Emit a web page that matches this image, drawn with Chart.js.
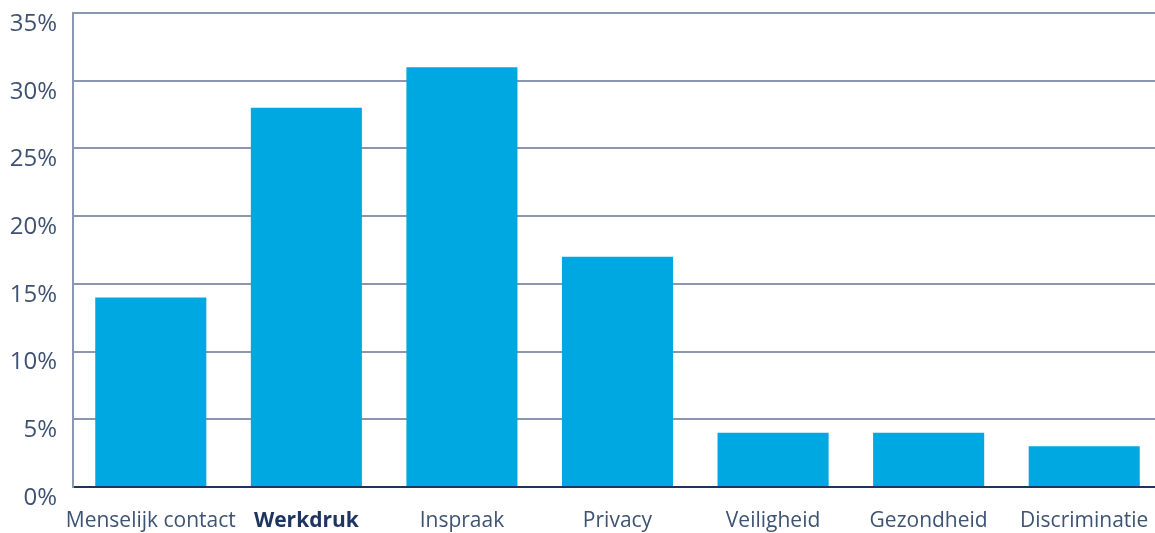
<!DOCTYPE html>
<html>
<head>
<meta charset="utf-8">
<script src="https://cdn.jsdelivr.net/npm/chart.js@4"></script>
<style>
  html, body { margin: 0; padding: 0; background: #fff; overflow: hidden; }
  #wrap { width: 1162px; height: 533px; position: relative; }
</style>
</head>
<body>
<div id="wrap"><canvas id="chart"></canvas></div>
<script>
// Categories and shares (percent)
const categories = ['Menselijk contact', 'Werkdruk', 'Inspraak', 'Privacy', 'Veiligheid', 'Gezondheid', 'Discriminatie'];
const shares = [14, 28, 31, 17, 4, 4, 3];
const highlighted = ['Werkdruk'];
const yTicks = [0, 5, 10, 15, 20, 25, 30, 35];

const BAR_BLUE = '#00a8e1';
const GRID_GREY = '#8a97ae';
const TEXT_SLATE = '#3e5373';
const NAVY = '#1e3560';

// fixed axis sizes so the plot area lines up with the page grid
const Y_AXIS_WIDTH = 73;
const X_AXIS_HEIGHT = 46;

new Chart(document.getElementById('chart'), {
    type: 'bar',
    data: {
        labels: categories,
        datasets: [{
            data: shares,
            backgroundColor: BAR_BLUE,
            borderWidth: 0,
            categoryPercentage: 1,
            barPercentage: 0.714
        }]
    },
    options: {
        animation: false,
        responsive: true,
        maintainAspectRatio: false,
        layout: { padding: { top: 13, left: 0, right: 0, bottom: 0 } },
        plugins: {
            legend: { display: false },
            tooltip: { enabled: false }
        },
        scales: {
            x: {
                grid: { display: false },
                border: { display: true, color: NAVY, width: 2 },
                afterFit: (scale) => {
                    scale.height = X_AXIS_HEIGHT;
                    scale.paddingLeft = 0;
                    scale.paddingRight = 0;
                },
                ticks: {
                    padding: 13,
                    color: (ctx) => highlighted.includes(categories[ctx.index]) ? NAVY : TEXT_SLATE,
                    font: (ctx) => ({
                        family: 'Open Sans',
                        size: 21,
                        weight: highlighted.includes(categories[ctx.index]) ? 'bold' : 'normal'
                    }),
                    maxRotation: 0,
                    autoSkip: false
                }
            },
            y: {
                min: 0,
                max: 35,
                afterBuildTicks: (scale) => { scale.ticks = yTicks.map(v => ({ value: v })); },
                afterFit: (scale) => {
                    scale.width = Y_AXIS_WIDTH;
                    scale.paddingTop = 0;
                    scale.paddingBottom = 0;
                },
                grid: { color: GRID_GREY, lineWidth: 2, drawTicks: false },
                border: { display: true, color: GRID_GREY, width: 2 },
                ticks: {
                    padding: 16,
                    labelOffset: 11,
                    color: TEXT_SLATE,
                    font: { family: 'Open Sans', size: 24 },
                    callback: (v) => v + '%'
                }
            }
        }
    }
});
</script>
</body>
</html>
